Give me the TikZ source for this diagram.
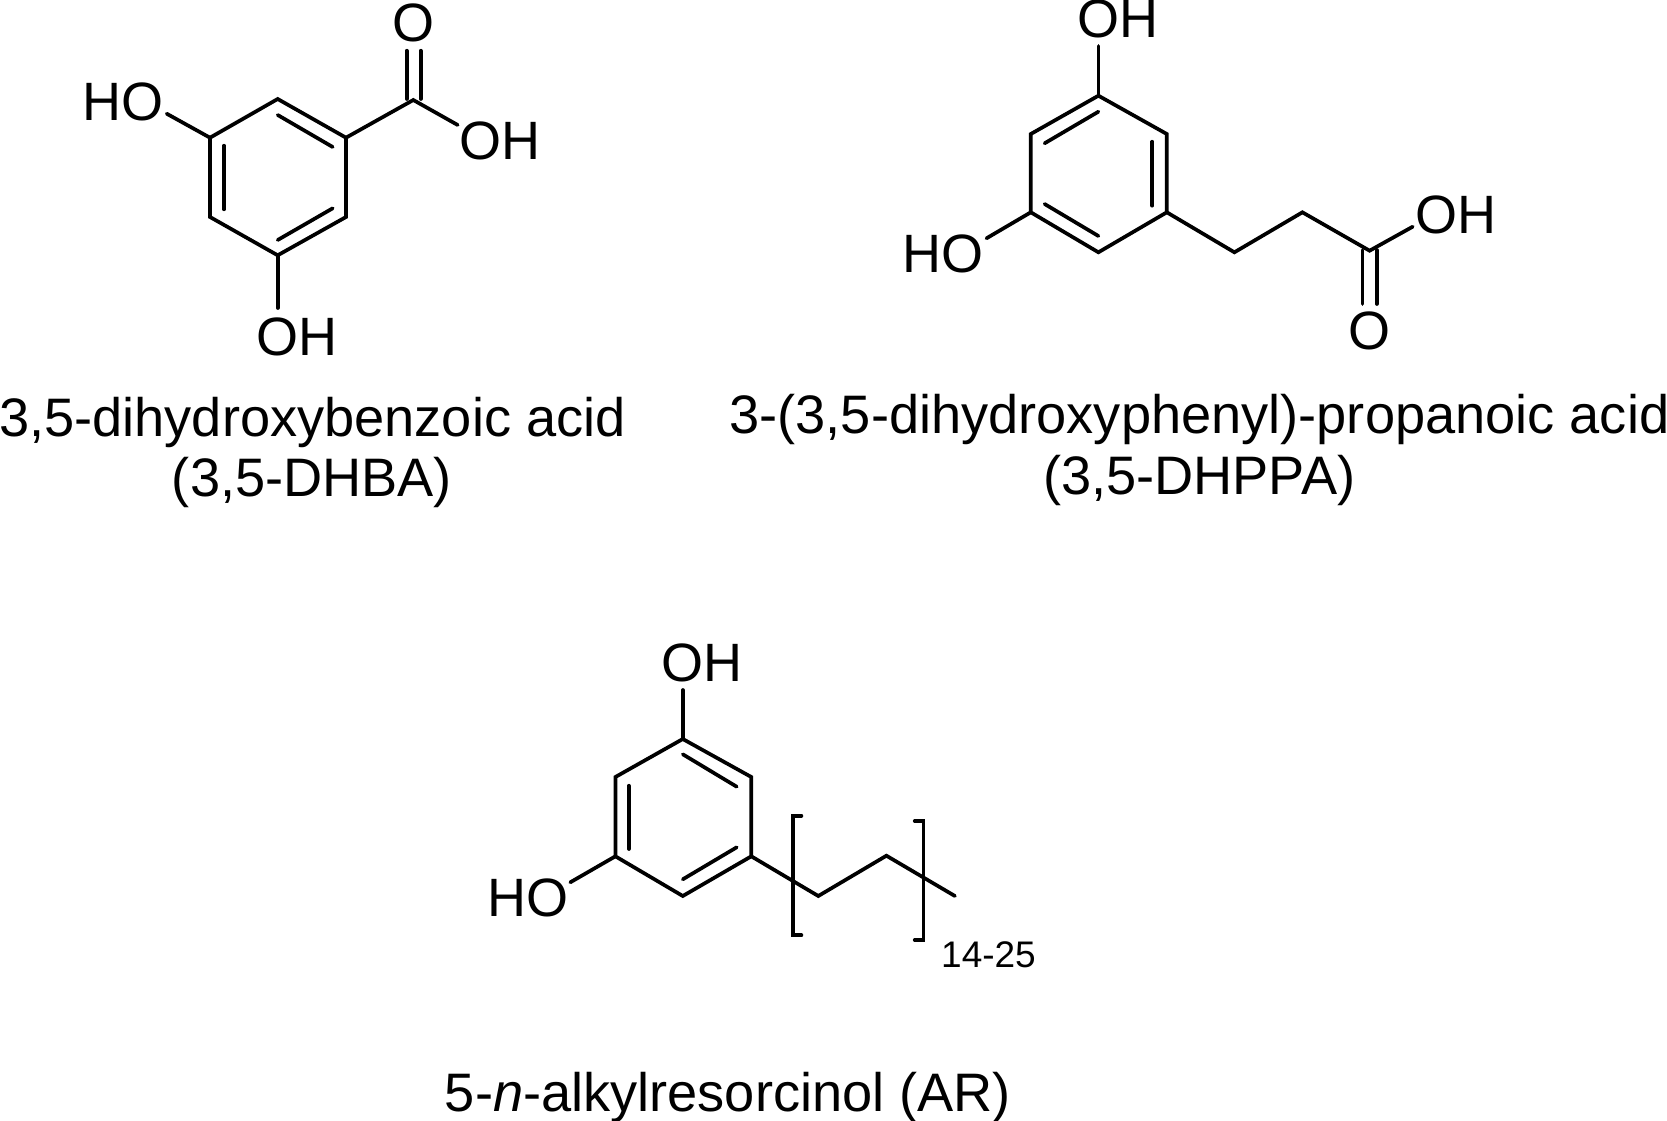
\documentclass[tikz,border=0pt]{standalone}
\usepackage{fontspec}
\setmainfont{Liberation Sans}
\newcommand{\atomfont}{\fontsize{54}{54}\selectfont}
\newcommand{\capfont}{\fontsize{54.2}{60}\selectfont}
\tikzset{
  bond/.style={line width=3.7pt,line cap=round,line join=miter,black},
  bracket/.style={line width=3.7pt,line cap=round,line join=miter,black},
  atomlab/.style={inner sep=0pt,anchor=base,font=\atomfont,text=black},
  caplab/.style={inner sep=0pt,anchor=base,font=\capfont,text=black},
  sublab/.style={inner sep=0pt,anchor=base,font=\fontsize{37}{37}\selectfont,text=black},
}
\begin{document}
\begin{tikzpicture}[x=1pt,y=-1pt]
\useasboundingbox (0,0) rectangle (1667,1121);
% --- molecule 1
\foreach \n/\x/\y in {a1/277.7/99,a2/346/137.7,a3/346/217,a4/277.7/255.3,a5/210/217,a6/210/137.7,
  aC/413.3/100,aOa/406.7/50.7,aOb/420.7/50.7,aOc/406.7/99,aOd/420.7/99,aOH/457.7/125,aHO/166.7/113.7,aHOb/277.7/308,
  ai1/277.7/115,ai2/332.7/147,ai3/224/145.7,ai4/224/209.3,ai5/277.7/240,ai6/332.7/208.3}
  {\coordinate (\n) at (\x,\y);}
\draw[bond] (a1)--(a2)--(a3)--(a4)--(a5)--(a6)--cycle;
\draw[bond] (ai1)--(ai2);
\draw[bond] (ai3)--(ai4);
\draw[bond] (ai5)--(ai6);
\draw[bond] (a2)--(aC)--(aOH);
\draw[bond] (aOa)--(aOc);
\draw[bond] (aOb)--(aOd);
\draw[bond] (a6)--(aHO);
\draw[bond] (a4)--(aHOb);
\node[atomlab] (aLO) at (413.8,41.5) {O};
\node[atomlab] (aLOH) at (500,159.3) {OH};
\node[atomlab] (aLHO) at (123.3,120.7) {HO};
\node[atomlab] (aLOHb) at (296.7,355) {OH};
% --- molecule 2 (right)
\foreach \n/\x/\y in {b1/1098.4/95.7,b2/1166.8/134,b3/1166.8/212.3,b4/1098.4/252.3,b5/1030.8/212.3,b6/1030.8/134,
  bOHt/1098.4/46,bHO/986.5/238.3,bc1/1234.4/252.3,bc2/1302.4/212.3,bC/1369.6/250.7,bOH/1412.7/226.7,
  bOa/1362.5/250,bOb/1376.8/250,bOc/1362.5/304,bOd/1376.8/304,
  bi1/1098.4/111.7,bi2/1044.6/143.3,bi3/1152.2/141.7,bi4/1152.2/205.7,bi5/1044.6/204,bi6/1098.4/236}
  {\coordinate (\n) at (\x,\y);}
\draw[bond] (b1)--(b2)--(b3)--(b4)--(b5)--(b6)--cycle;
\draw[bond] (bi1)--(bi2);
\draw[bond] (bi3)--(bi4);
\draw[bond] (bi5)--(bi6);
\draw[bond] (b1)--(bOHt);
\draw[bond] (b5)--(bHO);
\draw[bond] (b3)--(bc1)--(bc2)--(bC)--(bOH);
\draw[bond] (bOa)--(bOc);
\draw[bond] (bOb)--(bOd);
\node[atomlab] (bLOHt) at (1117.5,37.7) {OH};
\node[atomlab] (bLHO) at (943.3,272.7) {HO};
\node[atomlab] (bLOH) at (1456.4,233.3) {OH};
\node[atomlab] (bLO) at (1369.7,349) {O};
% --- molecule 3 (bottom)
\foreach \n/\x/\y in {c1/682.8/739,c2/751.3/777,c3/751.3/856.3,c4/682.8/896,c5/615.4/856.3,c6/615.4/777,
  cOH/682.8/690,cHO/570.3/882.3,cc1/818.3/896,cc2/886.4/855.7,cc3/954.9/896,
  ci1/682.8/754.3,ci2/736.7/786.7,ci3/628.8/785.7,ci4/628.8/849,ci5/682.8/879.3,ci6/736.7/847.3,
  cbl1/801.4/815.7,cbl2/793/815.7,cbl3/793/935.3,cbl4/801.4/935.3,
  cbr1/914.7/821,cbr2/923.5/821,cbr3/923.5/940,cbr4/914.7/940}
  {\coordinate (\n) at (\x,\y);}
\draw[bond] (c1)--(c2)--(c3)--(c4)--(c5)--(c6)--cycle;
\draw[bond] (ci1)--(ci2);
\draw[bond] (ci3)--(ci4);
\draw[bond] (ci5)--(ci6);
\draw[bond] (c1)--(cOH);
\draw[bond] (c5)--(cHO);
\draw[bond] (c3)--(cc1)--(cc2)--(cc3);
\draw[bracket] (cbl1)--(cbl2)--(cbl3)--(cbl4);
\draw[bracket] (cbr1)--(cbr2)--(cbr3)--(cbr4);
\node[atomlab] (cLOH) at (701.5,681.7) {OH};
\node[atomlab] (cLHO) at (528,916) {HO};
\node[sublab] (cLsub) at (988.5,967.3) {14-25};
% --- captions
\node[caplab] (cap1a) at (312.5,436) {3,5-dihydroxybenzoic acid};
\node[caplab] (cap1b) at (312,496) {(3,5-DHBA)};
\node[caplab] (cap2a) at (1199.5,433.5) {3-(3,5-dihydroxyphenyl)-propanoic acid};
\node[caplab] (cap2b) at (1199.2,494.5) {(3,5-DHPPA)};
\node[caplab] (cap3) at (728,1111) {5-\textit{n}-alkylresorcinol (AR)};
\end{tikzpicture}
\end{document}
